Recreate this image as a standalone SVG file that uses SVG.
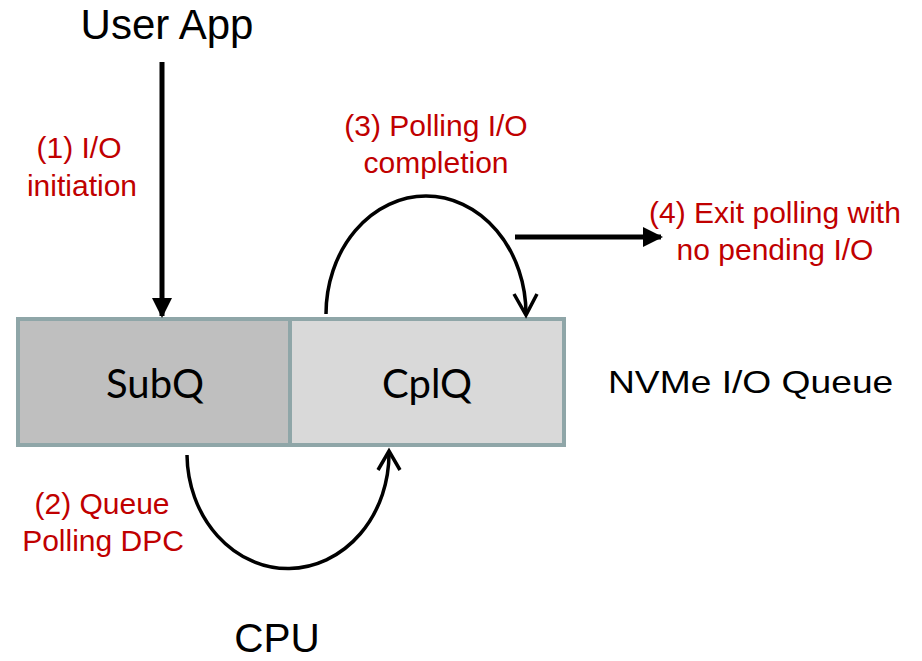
<svg xmlns="http://www.w3.org/2000/svg" width="922" height="661" viewBox="0 0 922 661">
<style>
.lbl{font-family:"Liberation Sans",Arial,sans-serif;fill:#000}
.red{font-family:"Liberation Sans",Arial,sans-serif;fill:#C00000;font-size:30px;text-anchor:middle}
.q{font-family:"Lato","Open Sans",sans-serif;font-size:40px;text-anchor:middle;fill:#000}
.box{stroke:#8FA6A8;stroke-width:4}
.arc{fill:none;stroke:#000;stroke-width:3.5}
.open{fill:none;stroke:#000;stroke-width:3.5}
</style>
<defs>
<marker id="tri" viewBox="0 0 10 10" refX="9" refY="5" markerWidth="4" markerHeight="4" orient="auto" markerUnits="strokeWidth">
<path d="M0,0 L10,5 L0,10 z" fill="#000"/>
</marker>
</defs>
<rect width="922" height="661" fill="#fff"/>
<g id="subq">
<rect x="18" y="319" width="272" height="126" fill="#BFBFBF" class="box"/>
<text class="q" x="155" y="398">SubQ</text>
</g>
<g id="cplq">
<rect x="290" y="319" width="274" height="126" fill="#D9D9D9" class="box"/>
<text class="q" x="427" y="398">CplQ</text>
</g>
<g id="userapp"><text class="lbl" x="167" y="39" font-size="42" text-anchor="middle">User App</text></g>
<g id="cpu"><text class="lbl" x="277" y="652" font-size="40.5" text-anchor="middle">CPU</text></g>
<g id="nvme"><text class="lbl" transform="translate(608,393) scale(1.2,1)" x="0" y="0" font-size="31">NVMe I/O Queue</text></g>
<g id="labels">
<text class="red" x="79" y="158">(1) I/O</text>
<text class="red" x="82" y="196">initiation</text>
<text class="red" x="436" y="136">(3) Polling I/O</text>
<text class="red" x="436" y="173">completion</text>
<text class="red" x="775" y="223">(4) Exit polling with</text>
<text class="red" x="775" y="260">no pending I/O</text>
<text class="red" x="102" y="514">(2) Queue</text>
<text class="red" x="103" y="551">Polling DPC</text>
</g>
<g id="connectors">
<line x1="162" y1="62" x2="162" y2="316" stroke="#000" stroke-width="5" marker-end="url(#tri)"/>
<line x1="515" y1="237" x2="661" y2="237" stroke="#000" stroke-width="5" marker-end="url(#tri)"/>
<path class="arc" d="M326,314 A100,118 0 0 1 526,314"/>
<path class="open" d="M514,294 L526,315 L537,294"/>
<path class="arc" d="M187,455 A101,115 0 0 0 389,452"/>
<path class="open" d="M378,470 L389,451 L400,470"/>
</g>
</svg>
